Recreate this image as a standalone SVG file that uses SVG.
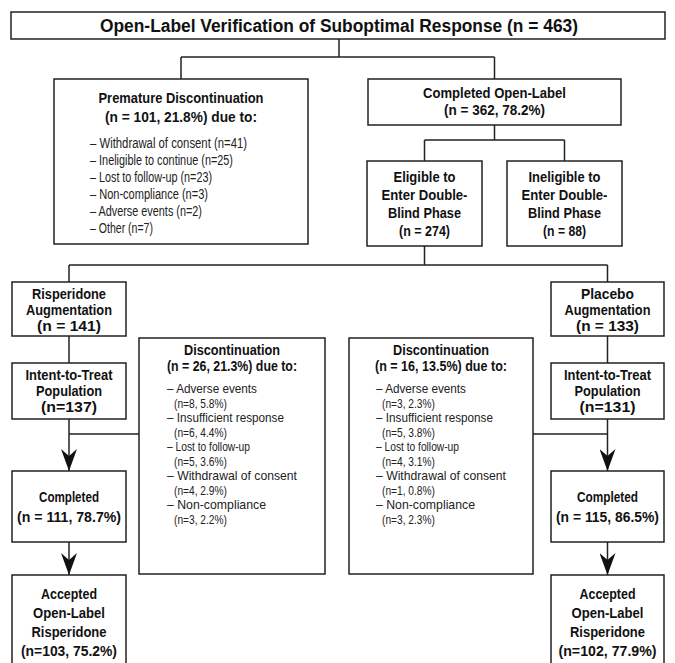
<svg xmlns="http://www.w3.org/2000/svg" width="675" height="663" viewBox="0 0 675 663">
<defs>
<style>
.box{fill:#fff;stroke:#222;stroke-width:1.5}
.ln{fill:none;stroke:#222;stroke-width:1.5}
.t{font-family:"Liberation Sans",Arial,sans-serif;font-weight:bold;font-size:15px;fill:#111;text-anchor:middle}
.t2{font-family:"Liberation Sans",Arial,sans-serif;font-weight:bold;font-size:14px;fill:#111;text-anchor:middle}
.h{font-family:"Liberation Sans",Arial,sans-serif;font-weight:bold;font-size:18px;fill:#111;text-anchor:middle}
.b{font-family:"Liberation Sans",Arial,sans-serif;font-size:14px;fill:#222}
.s{font-family:"Liberation Sans",Arial,sans-serif;font-size:13.5px;fill:#222}
</style>
<marker id="ah" viewBox="0 0 22 16" refX="22" refY="8" markerWidth="22" markerHeight="16" markerUnits="userSpaceOnUse" orient="auto"><path d="M0,0 L22,8 L0,16 L7,8 Z" fill="#111"/></marker>
</defs>
<rect width="675" height="663" fill="#fff"/>
<g id="connectors">
<path class="ln" d="M339,39 V57 M181,57 H494.5 M181,57 V79 M494.5,57 V79"/>
<path class="ln" d="M494.5,125 V140 M424.5,140 H564.5 M424.5,140 V161 M564.5,140 V161"/>
<path class="ln" d="M424.5,246 V265 M69,265 H607.5 M69,265 V282 M607.5,265 V282"/>
<path class="ln" d="M69,336 V363 M607.5,336 V363 M69,434 H139 M533,434 H607.5"/>
<path class="ln" d="M69,419 V471" marker-end="url(#ah)"/>
<path class="ln" d="M607.5,419 V471" marker-end="url(#ah)"/>
<path class="ln" d="M69,542 V575" marker-end="url(#ah)"/>
<path class="ln" d="M607.5,542 V575" marker-end="url(#ah)"/>
</g>
<g id="top">
<rect class="box" x="11" y="12" width="654" height="27"/>
<text class="h" x="339" y="31.5" textLength="478" lengthAdjust="spacingAndGlyphs">Open-Label Verification of Suboptimal Response (n = 463)</text>
</g>
<g id="premature">
<rect class="box" x="54" y="79" width="254" height="165"/>
<text class="t" x="181" y="103" textLength="165" lengthAdjust="spacingAndGlyphs">Premature Discontinuation</text>
<text class="t" x="181" y="122" textLength="152" lengthAdjust="spacingAndGlyphs">(n = 101, 21.8%) due to:</text>
<text class="b" x="90" y="148" textLength="157" lengthAdjust="spacingAndGlyphs">– Withdrawal of consent (n=41)</text>
<text class="b" x="90" y="165" textLength="143" lengthAdjust="spacingAndGlyphs">– Ineligible to continue (n=25)</text>
<text class="b" x="90" y="182" textLength="122" lengthAdjust="spacingAndGlyphs">– Lost to follow-up (n=23)</text>
<text class="b" x="90" y="199" textLength="118" lengthAdjust="spacingAndGlyphs">– Non-compliance (n=3)</text>
<text class="b" x="90" y="216" textLength="112" lengthAdjust="spacingAndGlyphs">– Adverse events (n=2)</text>
<text class="b" x="90" y="233" textLength="63" lengthAdjust="spacingAndGlyphs">– Other (n=7)</text>
</g>
<g id="completed-ol">
<rect class="box" x="368" y="79" width="253" height="46"/>
<text class="t" x="494.5" y="98" textLength="143" lengthAdjust="spacingAndGlyphs">Completed Open-Label</text>
<text class="t" x="494.5" y="115" textLength="101" lengthAdjust="spacingAndGlyphs">(n = 362, 78.2%)</text>
</g>
<g id="eligible">
<rect class="box" x="367" y="161" width="115" height="85"/>
<text class="t" x="424.5" y="182" textLength="62" lengthAdjust="spacingAndGlyphs">Eligible to</text>
<text class="t" x="424.5" y="200" textLength="86" lengthAdjust="spacingAndGlyphs">Enter Double-</text>
<text class="t" x="424.5" y="218" textLength="73" lengthAdjust="spacingAndGlyphs">Blind Phase</text>
<text class="t" x="424.5" y="236" textLength="51" lengthAdjust="spacingAndGlyphs">(n = 274)</text>
</g>
<g id="ineligible">
<rect class="box" x="507" y="161" width="115" height="85"/>
<text class="t" x="564.5" y="182" textLength="72" lengthAdjust="spacingAndGlyphs">Ineligible to</text>
<text class="t" x="564.5" y="200" textLength="86" lengthAdjust="spacingAndGlyphs">Enter Double-</text>
<text class="t" x="564.5" y="218" textLength="73" lengthAdjust="spacingAndGlyphs">Blind Phase</text>
<text class="t" x="564.5" y="236" textLength="43" lengthAdjust="spacingAndGlyphs">(n = 88)</text>
</g>
<g id="risperidone">
<rect class="box" x="12" y="282" width="114" height="54"/>
<text class="t" x="69" y="299" textLength="74" lengthAdjust="spacingAndGlyphs">Risperidone</text>
<text class="t" x="69" y="315" textLength="86" lengthAdjust="spacingAndGlyphs">Augmentation</text>
<text class="t" x="69" y="331" textLength="64" lengthAdjust="spacingAndGlyphs">(n = 141)</text>
</g>
<g id="placebo">
<rect class="box" x="551" y="282" width="113" height="54"/>
<text class="t" x="607.5" y="299" textLength="53" lengthAdjust="spacingAndGlyphs">Placebo</text>
<text class="t" x="607.5" y="315" textLength="86" lengthAdjust="spacingAndGlyphs">Augmentation</text>
<text class="t" x="607.5" y="331" textLength="63" lengthAdjust="spacingAndGlyphs">(n = 133)</text>
</g>
<g id="itt-risperidone">
<rect class="box" x="12" y="363" width="114" height="56"/>
<text class="t2" x="69" y="380" textLength="87" lengthAdjust="spacingAndGlyphs">Intent-to-Treat</text>
<text class="t2" x="69" y="396" textLength="66" lengthAdjust="spacingAndGlyphs">Population</text>
<text class="t2" x="69" y="412" textLength="56" lengthAdjust="spacingAndGlyphs">(n=137)</text>
</g>
<g id="itt-placebo">
<rect class="box" x="551" y="363" width="113" height="56"/>
<text class="t2" x="607.5" y="380" textLength="87" lengthAdjust="spacingAndGlyphs">Intent-to-Treat</text>
<text class="t2" x="607.5" y="396" textLength="66" lengthAdjust="spacingAndGlyphs">Population</text>
<text class="t2" x="607.5" y="412" textLength="56" lengthAdjust="spacingAndGlyphs">(n=131)</text>
</g>
<g id="disc-risperidone">
<rect class="box" x="139" y="338" width="186" height="236"/>
<text class="t2" x="232" y="355" textLength="96" lengthAdjust="spacingAndGlyphs">Discontinuation</text>
<text class="t2" x="232" y="371" textLength="130" lengthAdjust="spacingAndGlyphs">(n = 26, 21.3%) due to:</text>
<text class="s" x="167" y="393" textLength="90" lengthAdjust="spacingAndGlyphs">– Adverse events</text>
<text class="s" x="174" y="407.5" textLength="53" lengthAdjust="spacingAndGlyphs">(n=8, 5.8%)</text>
<text class="s" x="167" y="422" textLength="117" lengthAdjust="spacingAndGlyphs">– Insufficient response</text>
<text class="s" x="174" y="436.5" textLength="53" lengthAdjust="spacingAndGlyphs">(n=6, 4.4%)</text>
<text class="s" x="167" y="451" textLength="83" lengthAdjust="spacingAndGlyphs">– Lost to follow-up</text>
<text class="s" x="174" y="465.5" textLength="53" lengthAdjust="spacingAndGlyphs">(n=5, 3.6%)</text>
<text class="s" x="167" y="480" textLength="130" lengthAdjust="spacingAndGlyphs">– Withdrawal of consent</text>
<text class="s" x="174" y="494.5" textLength="53" lengthAdjust="spacingAndGlyphs">(n=4, 2.9%)</text>
<text class="s" x="167" y="509" textLength="99" lengthAdjust="spacingAndGlyphs">– Non-compliance</text>
<text class="s" x="174" y="523.5" textLength="53" lengthAdjust="spacingAndGlyphs">(n=3, 2.2%)</text>
</g>
<g id="disc-placebo">
<rect class="box" x="349" y="338" width="184" height="236"/>
<text class="t2" x="441" y="355" textLength="96" lengthAdjust="spacingAndGlyphs">Discontinuation</text>
<text class="t2" x="441" y="371" textLength="132" lengthAdjust="spacingAndGlyphs">(n = 16, 13.5%) due to:</text>
<text class="s" x="376" y="393" textLength="90" lengthAdjust="spacingAndGlyphs">– Adverse events</text>
<text class="s" x="382" y="407.5" textLength="53" lengthAdjust="spacingAndGlyphs">(n=3, 2.3%)</text>
<text class="s" x="376" y="422" textLength="117" lengthAdjust="spacingAndGlyphs">– Insufficient response</text>
<text class="s" x="382" y="436.5" textLength="53" lengthAdjust="spacingAndGlyphs">(n=5, 3.8%)</text>
<text class="s" x="376" y="451" textLength="83" lengthAdjust="spacingAndGlyphs">– Lost to follow-up</text>
<text class="s" x="382" y="465.5" textLength="53" lengthAdjust="spacingAndGlyphs">(n=4, 3.1%)</text>
<text class="s" x="376" y="480" textLength="130" lengthAdjust="spacingAndGlyphs">– Withdrawal of consent</text>
<text class="s" x="382" y="494.5" textLength="53" lengthAdjust="spacingAndGlyphs">(n=1, 0.8%)</text>
<text class="s" x="376" y="509" textLength="99" lengthAdjust="spacingAndGlyphs">– Non-compliance</text>
<text class="s" x="382" y="523.5" textLength="53" lengthAdjust="spacingAndGlyphs">(n=3, 2.3%)</text>
</g>
<g id="completed-risperidone">
<rect class="box" x="12" y="471" width="114" height="71"/>
<text class="t" x="69" y="502" textLength="60" lengthAdjust="spacingAndGlyphs">Completed</text>
<text class="t" x="69" y="522" textLength="104" lengthAdjust="spacingAndGlyphs">(n = 111, 78.7%)</text>
</g>
<g id="completed-placebo">
<rect class="box" x="551" y="471" width="113" height="71"/>
<text class="t" x="607.5" y="502" textLength="61" lengthAdjust="spacingAndGlyphs">Completed</text>
<text class="t" x="607.5" y="522" textLength="103" lengthAdjust="spacingAndGlyphs">(n = 115, 86.5%)</text>
</g>
<g id="accepted-risperidone">
<rect class="box" x="12" y="575" width="114" height="95"/>
<text class="t" x="69" y="599" textLength="56" lengthAdjust="spacingAndGlyphs">Accepted</text>
<text class="t" x="69" y="618" textLength="72" lengthAdjust="spacingAndGlyphs">Open-Label</text>
<text class="t" x="69" y="637" textLength="75" lengthAdjust="spacingAndGlyphs">Risperidone</text>
<text class="t" x="69" y="656" textLength="96" lengthAdjust="spacingAndGlyphs">(n=103, 75.2%)</text>
</g>
<g id="accepted-placebo">
<rect class="box" x="551" y="575" width="113" height="95"/>
<text class="t" x="607.5" y="599" textLength="56" lengthAdjust="spacingAndGlyphs">Accepted</text>
<text class="t" x="607.5" y="618" textLength="72" lengthAdjust="spacingAndGlyphs">Open-Label</text>
<text class="t" x="607.5" y="637" textLength="75" lengthAdjust="spacingAndGlyphs">Risperidone</text>
<text class="t" x="607.5" y="656" textLength="98" lengthAdjust="spacingAndGlyphs">(n=102, 77.9%)</text>
</g>
</svg>
